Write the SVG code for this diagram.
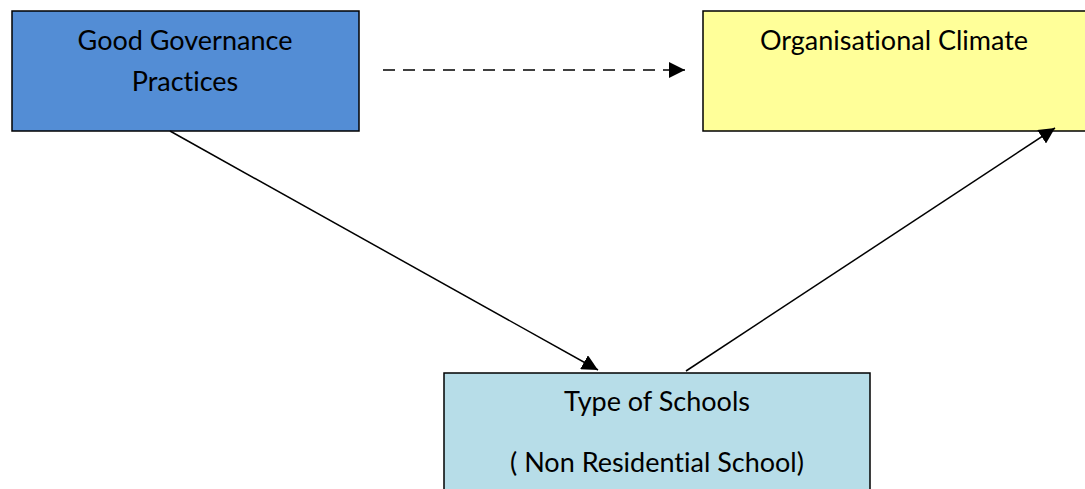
<svg xmlns="http://www.w3.org/2000/svg" width="1085" height="489" viewBox="0 0 1085 489">
<style>
.box{stroke:#000;stroke-width:1.5}
.t{font-family:Lato,"Open Sans",sans-serif;font-size:27px;fill:#000;text-anchor:middle;font-variant-ligatures:none}
.c{stroke:#000;stroke-width:1.5;fill:none}
</style>
<defs>
<marker id="ah" viewBox="0 0 10 10" refX="10" refY="5" markerWidth="16" markerHeight="16" markerUnits="userSpaceOnUse" orient="auto">
<path d="M0,0 L10,5 L0,10 z" fill="#000"/>
</marker>
</defs>
<rect width="1085" height="489" fill="#fff"/>
<g id="good-governance">
<rect class="box" x="12" y="11" width="347" height="120" fill="#538dd5"/>
<text class="t" x="185" y="50">Good Governance</text>
<text class="t" x="185" y="91">Practices</text>
</g>
<g id="organisational-climate">
<rect class="box" x="703" y="11" width="390" height="120" fill="#ffff99"/>
<text class="t" x="894" y="50">Organisational Climate</text>
</g>
<g id="type-of-schools">
<rect class="box" x="444" y="373" width="426" height="130" fill="#b7dde8"/>
<text class="t" x="657" y="411">Type of Schools</text>
<text class="t" x="657" y="472">( Non Residential School)</text>
</g>
<g id="connectors">
<line class="c" x1="383" y1="70" x2="685" y2="70" stroke-width="2" stroke-dasharray="12,8" marker-end="url(#ah)"/>
<line class="c" x1="170" y1="131" x2="598" y2="370" marker-end="url(#ah)"/>
<line class="c" x1="686" y1="371" x2="1055" y2="128" marker-end="url(#ah)"/>
</g>
</svg>
